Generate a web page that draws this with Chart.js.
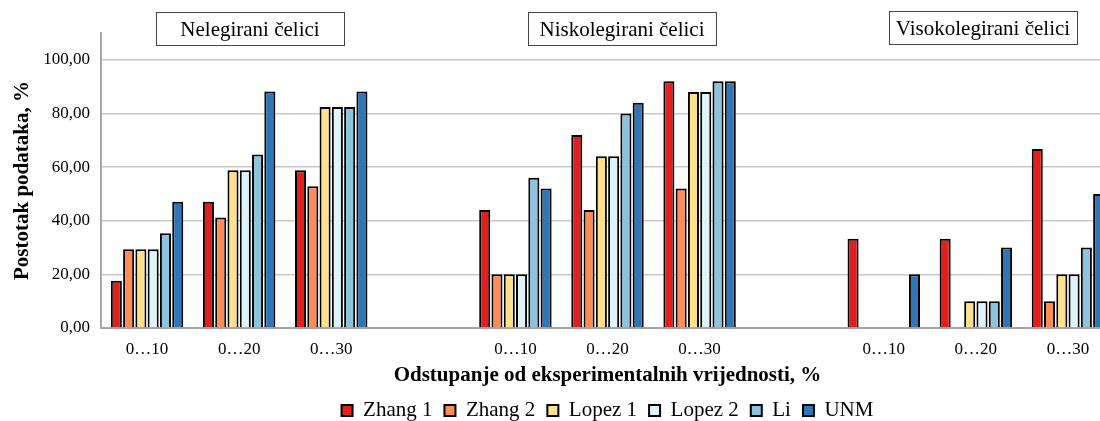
<!DOCTYPE html>
<html lang="hr">
<head>
  <meta charset="UTF-8">
  <title>Odstupanje od eksperimentalnih vrijednosti</title>
  <script src="https://cdn.jsdelivr.net/npm/chart.js"></script>
  <style>
    html, body { margin: 0; padding: 0; background: #fff; overflow: hidden; }
    /* plot runs past the right and bottom edge like in the original */
    #wrap { width: 1100px; height: 421px; position: relative; overflow: hidden; }
  </style>
</head>
<body>
<div id="wrap"><canvas id="chart" width="1114" height="431"></canvas></div>
<script>
  // categories (empty ones separate the three steel groups)
  const categories = ['0…10', '0…20', '0…30', '', '0…10', '0…20', '0…30', '', '0…10', '0…20', '0…30'];
  const groupTitles = ['Nelegirani čelici', 'Niskolegirani čelici', 'Visokolegirani čelici'];
  const groupMiddle = [1, 5, 9];

  const zhang1 = [17.6, 47.1, 58.8, null, 44, 72, 92, null, 33.3, 33.3, 66.7];
  const zhang2 = [29.4, 41.2, 52.9, null, 20, 44, 52, null, 0, 0, 10];
  const lopez1 = [29.4, 58.8, 82.4, null, 20, 64, 88, null, 0, 10, 20];
  const lopez2 = [29.4, 58.8, 82.4, null, 20, 64, 88, null, 0, 10, 20];
  const li     = [35.3, 64.7, 82.4, null, 56, 80, 92, null, 0, 10, 30];
  const unm    = [47.1, 88.2, 88.2, null, 52, 84, 92, null, 20, 30, 50];

  const seriesNames = ['Zhang 1', 'Zhang 2', 'Lopez 1', 'Lopez 2', 'Li', 'UNM'];
  const seriesData = [zhang1, zhang2, lopez1, lopez2, li, unm];
  const seriesColors = ['#E0201F', '#FC8D59', '#FEE08F', '#E0F3F8', '#8EC3DE', '#2F76B6'];

  const FONT = "'Liberation Serif', 'Times New Roman', serif";

  // text boxes above each group (hand placed, like in the original)
  const boxShift = [11, 14, 7];
  const boxTop = [12, 12, 11];
  const groupBoxes = {
    id: 'groupBoxes',
    afterDraw(chart) {
      const c = chart.ctx;
      const xs = chart.scales.x;
      const w = 188;
      c.save();
      c.font = '21px ' + FONT;
      c.textAlign = 'center';
      c.textBaseline = 'middle';
      groupTitles.forEach((t, i) => {
        const cx = Math.round(xs.getPixelForValue(groupMiddle[i]) + boxShift[i]);
        const y = boxTop[i];
        c.fillStyle = '#fff';
        c.fillRect(cx - w / 2, y, w, 33);
        c.strokeStyle = '#444';
        c.lineWidth = 1;
        c.strokeRect(cx - w / 2 + 0.5, y + 0.5, w, 33);
        c.fillStyle = '#000';
        c.fillText(t, cx, y + 18);
      });
      c.restore();
    }
  };

  new Chart(document.getElementById('chart'), {
    type: 'bar',
    data: {
      labels: categories,
      datasets: seriesNames.map((n, i) => ({
        label: n,
        data: seriesData[i],
        backgroundColor: seriesColors[i],
        borderColor: '#000',
        borderWidth: 2,
        categoryPercentage: 0.8,
        barPercentage: 0.9
      }))
    },
    options: {
      responsive: false,
      animation: false,
      layout: { padding: { top: 33, left: 0, right: 0, bottom: 0 } },
      plugins: {
        legend: {
          position: 'bottom',
          fullSize: false,
          labels: {
            color: '#000',
            font: { family: FONT, size: 21 },
            boxWidth: 11,
            boxHeight: 11,
            padding: 12
          }
        },
        tooltip: { enabled: false }
      },
      scales: {
        x: {
          afterFit: s => { s.height = 60; },
          grid: { display: false },
          border: { color: '#a6a6a6', width: 2 },
          ticks: { color: '#000', font: { family: FONT, size: 17 }, padding: 3, maxRotation: 0, autoSkip: false },
          title: {
            display: true,
            text: 'Odstupanje od eksperimentalnih vrijednosti, %',
            color: '#000',
            font: { family: FONT, size: 21, weight: 'bold' },
            padding: { top: 4, bottom: 0 }
          }
        },
        y: {
          min: 0,
          max: 110,
          afterBuildTicks: s => { s.ticks = s.ticks.filter(t => t.value <= 100); },
          afterFit: s => { s.width = 101; },
          grid: { color: '#c8c8c8', lineWidth: 1.5, drawTicks: false },
          border: { color: '#a6a6a6', width: 2 },
          ticks: {
            stepSize: 20,
            color: '#000',
            font: { family: FONT, size: 17 },
            padding: 11,
            callback: v => v.toFixed(2).replace('.', ',')
          },
          title: {
            display: true,
            text: 'Postotak podataka, %',
            color: '#000',
            font: { family: FONT, size: 21, weight: 'bold' },
            padding: { top: 10, bottom: 0 }
          }
        }
      }
    },
    plugins: [groupBoxes]
  });
</script>
</body>
</html>
